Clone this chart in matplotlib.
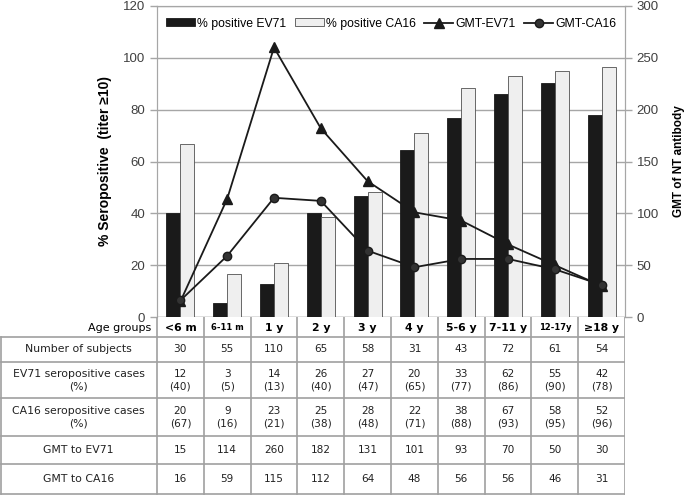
"""Seropositivity and GMT of EV71 / CA16 neutralising antibody by age group,
with the underlying counts tabulated under the chart. Writes out.png."""
import matplotlib

matplotlib.use("Agg")
import matplotlib.pyplot as plt
import numpy as np

plt.rcParams["font.family"] = ["Liberation Sans", "DejaVu Sans"]

# Data
AGE_GROUPS = ["<6 m", "6-11 m", "1 y", "2 y", "3 y", "4 y", "5-6 y", "7-11 y", "12-17y", "≥18 y"]
N_SUBJECTS = [30, 55, 110, 65, 58, 31, 43, 72, 61, 54]
EV71_POS = [12, 3, 14, 26, 27, 20, 33, 62, 55, 42]
CA16_POS = [20, 9, 23, 25, 28, 22, 38, 67, 58, 52]
EV71_PCT_TXT = [40, 5, 13, 40, 47, 65, 77, 86, 90, 78]
CA16_PCT_TXT = [67, 16, 21, 38, 48, 71, 88, 93, 95, 96]
PCT_EV71 = [40.0, 5.5, 12.7, 40.0, 46.6, 64.5, 76.7, 86.1, 90.2, 77.8]
PCT_CA16 = [66.7, 16.4, 20.9, 38.5, 48.3, 71.0, 88.4, 93.1, 95.1, 96.3]
GMT_EV71 = [15, 114, 260, 182, 131, 101, 93, 70, 50, 30]
GMT_CA16 = [16, 59, 115, 112, 64, 48, 56, 56, 46, 31]

ROW_LABELS = ["Number of subjects", "EV71 seropositive cases\n(%)",
              "CA16 seropositive cases\n(%)", "GMT to EV71", "GMT to CA16"]

# Palette
INK = "#1a1a1a"
LIGHT = "#efefef"
GRID = "#a6a6a6"
TICK = "#404040"

W, H = 685, 496
fig = plt.figure(figsize=(W / 100, H / 100), dpi=100)
fig.patch.set_facecolor("white")

# pixel layout of the plot area
PX_L, PX_R, PX_T, PX_B = 157, 625, 6, 317
ax = fig.add_axes([PX_L / W, 1 - PX_B / H, (PX_R - PX_L) / W, (PX_B - PX_T) / H])
ax2 = ax.twinx()

x = np.arange(len(AGE_GROUPS))
bw = 0.3
ax.bar(x - bw / 2, PCT_EV71, bw, color=INK, edgecolor=INK, linewidth=0.6,
       label="% positive EV71", zorder=3)
ax.bar(x + bw / 2, PCT_CA16, bw, color=LIGHT, edgecolor="#505050", linewidth=0.6,
       label="% positive CA16", zorder=3)

ax2.plot(x, GMT_EV71, color=INK, linewidth=1.3, marker="^", markersize=7,
         label="GMT-EV71", zorder=4)
ax2.plot(x, GMT_CA16, color=INK, linewidth=1.3, marker="o", markersize=6,
         markerfacecolor="#333333", label="GMT-CA16", zorder=4)

ax.set_xlim(-0.5, len(AGE_GROUPS) - 0.5)
ax.set_ylim(0, 120)
ax.set_yticks(range(0, 121, 20))
ax2.set_ylim(0, 300)
ax2.set_yticks(range(0, 301, 50))
ax.set_xticks([])
ax.yaxis.grid(True, color=GRID, linewidth=1)
ax.set_axisbelow(True)

for a in (ax, ax2):
    for s in a.spines.values():
        s.set_color(GRID)
    a.spines["bottom"].set_visible(False)
    a.tick_params(axis="y", colors=GRID, labelcolor=TICK, labelsize=9.5,
                  length=5, width=1)
ax.axhline(0, color=GRID, linewidth=1, zorder=2)

ax.set_ylabel("% Seropositive  (titer ≥10)", fontsize=10, fontweight="bold",
              labelpad=8)
ax2.set_ylabel("GMT of NT antibody", fontsize=8.5, fontweight="bold", labelpad=10)

h1, l1 = ax.get_legend_handles_labels()
h2, l2 = ax2.get_legend_handles_labels()
leg = ax2.legend(h1 + h2, l1 + l2, loc="upper center", ncol=4, frameon=False,
                 fontsize=8.8, handlelength=2.4, handleheight=0.6, handletextpad=0.15,
                 columnspacing=0.7, bbox_to_anchor=(0.5, 0.99), borderaxespad=0.3)

# Table under the chart, x in category units so columns sit under the bars
cat_px = (PX_R - PX_L) / len(AGE_GROUPS)
x0 = -0.5 - PX_L / cat_px
tab = fig.add_axes([0, 0, PX_R / W, 1 - PX_B / H])
tab.set_xlim(x0, len(AGE_GROUPS) - 0.5)
tab.set_ylim(H, PX_B)
tab.axis("off")

row_edges = [317, 337, 362, 398, 436, 464, 494]
lc = "#a0a0a0"
# horizontal rules
for y in row_edges[1:]:
    tab.plot([x0 + 0.03, len(AGE_GROUPS) - 0.5], [y, y], color=lc, linewidth=1.2)
# verticals
tab.plot([x0 + 0.03, x0 + 0.03], [row_edges[1], row_edges[-1]], color=lc, linewidth=1.2)
for i in range(len(AGE_GROUPS) + 1):
    tab.plot([i - 0.5, i - 0.5], [row_edges[0], row_edges[-1]], color=lc, linewidth=1.2)

tab.text(-0.62, (row_edges[0] + row_edges[1]) / 2 + 1, "Age groups", ha="right",
         va="center", fontsize=8, family="DejaVu Sans")
for i, g in enumerate(AGE_GROUPS):
    small = g in ("6-11 m", "12-17y")
    tab.text(i, (row_edges[0] + row_edges[1]) / 2 + 1, g, ha="center", va="center",
             fontsize=6 if small else 7.8, fontweight="bold", family="DejaVu Sans")

label_x = (x0 - 0.5) / 2
for r, lab in enumerate(ROW_LABELS):
    yc = (row_edges[r + 1] + row_edges[r + 2]) / 2
    tab.text(label_x, yc, lab, ha="center", va="center", fontsize=7.8,
             family="DejaVu Sans", linespacing=1.3, color="#222222")

rows = [
    [str(v) for v in N_SUBJECTS],
    [f"{c}\n({p})" for c, p in zip(EV71_POS, EV71_PCT_TXT)],
    [f"{c}\n({p})" for c, p in zip(CA16_POS, CA16_PCT_TXT)],
    [str(v) for v in GMT_EV71],
    [str(v) for v in GMT_CA16],
]
for r, vals in enumerate(rows):
    yc = (row_edges[r + 1] + row_edges[r + 2]) / 2
    for i, v in enumerate(vals):
        tab.text(i, yc, v, ha="center", va="center", fontsize=7.6,
                 family="DejaVu Sans", linespacing=1.3, color="#222222")

fig.savefig("out.png", dpi=100, facecolor="white")
